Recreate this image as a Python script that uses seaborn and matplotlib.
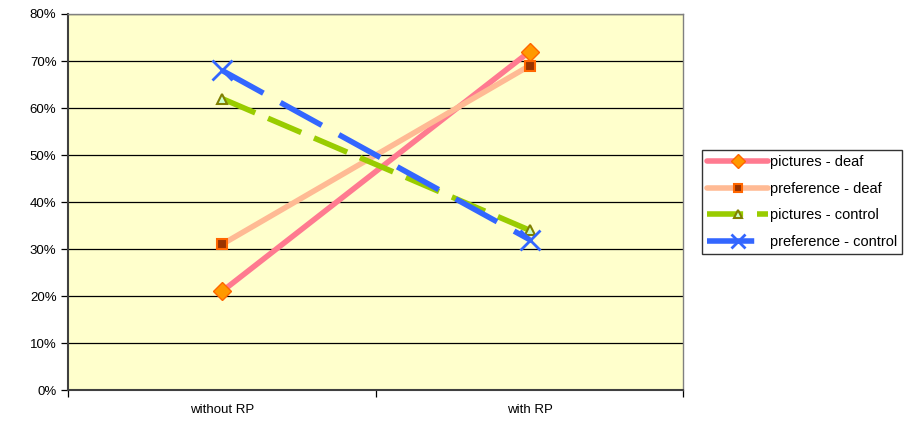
import numpy as np
import pandas as pd
import matplotlib.pyplot as plt
import seaborn as sns
from matplotlib.ticker import FixedLocator, PercentFormatter

conditions = ['without RP', 'with RP']
pictures_deaf = [21, 72]
preference_deaf = [31, 69]
pictures_control = [62, 34]
preference_control = [68, 32]
series_names = ['pictures - deaf', 'preference - deaf', 'pictures - control', 'preference - control']

rows = []
for name, vals in zip(series_names, [pictures_deaf, preference_deaf, pictures_control, preference_control]):
    for c, v in zip(conditions, vals):
        rows.append({'condition': c, 'value': v, 'series': name})
df = pd.DataFrame(rows)

sns.set_style('white')
plt.rcParams['font.family'] = ['Liberation Sans', 'DejaVu Sans']
plt.rcParams['text.color'] = 'black'
plt.rcParams['xtick.color'] = 'black'
plt.rcParams['ytick.color'] = 'black'

styles = {
    'pictures - deaf': dict(color='#FF7A90', lw=4, ls='-', marker='D', ms=9, mfc='#FF9900', mec='#FF6600', mew=1),
    'preference - deaf': dict(color='#FFBA94', lw=4, ls='-', marker='s', ms=7, mfc='#993300', mec='#FF6600', mew=1.5),
    'pictures - control': dict(color='#99CC00', lw=4, ls=(0, (6.5, 2.5)), marker='^', ms=7, mfc='#CCFFCC', mec='#808000', mew=1.5),
    'preference - control': dict(color='#3366FF', lw=4, ls=(0, (8.5, 3.5)), marker='x', ms=14, mfc='#3366FF', mec='#3366FF', mew=2),
}

fig, ax = plt.subplots(figsize=(9.1, 4.24), dpi=100)
fig.subplots_adjust(left=0.075, right=0.751, top=0.967, bottom=0.08)
ax.set_facecolor('#FFFFCC')

for name in series_names:
    st = styles[name]
    sns.lineplot(data=df[df['series'] == name], x='condition', y='value', ax=ax,
                 color=st['color'], linewidth=st['lw'], linestyle=st['ls'],
                 marker=st['marker'], markersize=st['ms'], markerfacecolor=st['mfc'],
                 markeredgecolor=st['mec'], markeredgewidth=st['mew'], label=name,
                 sort=False)

ax.set_xlim(-0.5, 1.5)
ax.set_ylim(0, 80)
ax.yaxis.set_major_locator(FixedLocator(np.arange(0, 81, 10)))
ax.yaxis.set_major_formatter(PercentFormatter(decimals=0))
ax.grid(axis='y', color='black', lw=0.9)
ax.set_axisbelow(True)
ax.set_xticks([0, 1])
ax.set_xticklabels(conditions)
ax.xaxis.set_minor_locator(FixedLocator([-0.5, 0.5, 1.5]))
ax.tick_params(axis='x', which='major', length=0, labelsize=9.5, pad=10)
ax.tick_params(axis='x', which='minor', length=5, width=0.9, direction='out', bottom=True)
ax.tick_params(axis='y', length=5, width=0.9, direction='out', left=True, labelsize=9.5)
ax.set_xlabel('')
ax.set_ylabel('')
for s in ['top', 'right']:
    ax.spines[s].set_color('#808080')
    ax.spines[s].set_linewidth(1)
for s in ['left', 'bottom']:
    ax.spines[s].set_color('#404040')
    ax.spines[s].set_linewidth(1.5)

leg = ax.legend(loc='center left', bbox_to_anchor=(1.018, 0.5), frameon=True, fancybox=False,
                edgecolor='black', fontsize=10.5, handlelength=4.2, handletextpad=0.1,
                borderpad=0.35, labelspacing=0.85, markerscale=0.75)
leg.get_frame().set_linewidth(1)

plt.savefig('out.png', dpi=100)
